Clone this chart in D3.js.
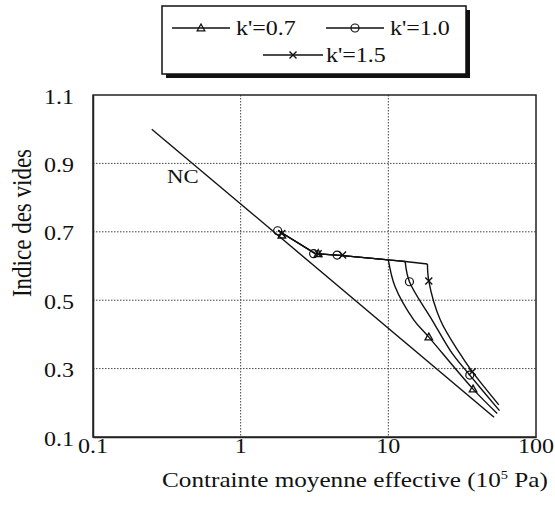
<!DOCTYPE html>
<html>
<head>
<meta charset="utf-8">
<script src="https://cdn.jsdelivr.net/npm/d3@7"></script>
<style>
  body { margin: 0; background: #fff; }
  text { font-family: "Liberation Serif", "Times New Roman", serif; fill: #111; }
</style>
</head>
<body>
<svg id="chart" width="555" height="510"></svg>
<script>
// Axis ticks and grid
const xTickValues = [0.1, 1, 10, 100];
const yTickValues = [0.1, 0.3, 0.5, 0.7, 0.9, 1.1];
const xGridValues = [1, 10];
const yGridValues = [0.3, 0.5, 0.7, 0.9];

// Normal consolidation line [p', e]
const ncLine = [[0.25, 1.0], [52, 0.158]];

// Common unloading plateau, then each k' branch [p', e]
const plateau07 = [[1.8, 0.703], [3.2, 0.636], [4.7, 0.631], [10, 0.618]];
const plateau10 = [[1.8, 0.703], [3.2, 0.636], [4.7, 0.631], [10, 0.618], [13, 0.613]];
const plateau15 = [[1.8, 0.703], [3.2, 0.636], [4.7, 0.631], [10, 0.618], [13, 0.613], [18.4, 0.606]];
const branch07 = [[10, 0.618], [11.1, 0.54], [14.9, 0.442], [18.8, 0.392], [37.5, 0.240], [54.6, 0.169]];
const branch10 = [[13, 0.613], [13.9, 0.554], [19.8, 0.442], [27, 0.345], [35.6, 0.281], [56.6, 0.177]];
const branch15 = [[18.4, 0.606], [18.8, 0.556], [22.5, 0.442], [30.4, 0.345], [37, 0.291], [56, 0.194]];

// Measured points shown with symbols
const markers07 = [[1.9, 0.69], [3.35, 0.636], [18.8, 0.392], [37.5, 0.240]];
const markers10 = [[1.78, 0.703], [3.12, 0.636], [4.5, 0.632], [13.9, 0.554], [35.6, 0.281]];
const markers15 = [[1.9, 0.695], [3.35, 0.636], [4.9, 0.632], [18.8, 0.556], [37, 0.291]];

const seriesNames = ["k'=0.7", "k'=1.0", "k'=1.5"];

const SX = 1.2; // horizontal glyph stretch
const svg = d3.select("#chart");
svg.append("rect").attr("width", 555).attr("height", 510).attr("fill", "#fff");

const plotL = 93, plotR = 536, plotT = 95, plotB = 437;
const x = d3.scaleLog().domain([0.1, 100]).range([plotL, plotR]);
const y = d3.scaleLinear().domain([0.1, 1.1]).range([plotB, plotT]);

function stretchedText(g, tx, ty, str, size, anchor, rot) {
  return g.append("text")
    .attr("transform", `translate(${tx},${ty}) scale(${SX},1)` + (rot ? ` rotate(${rot})` : ""))
    .attr("font-size", size)
    .attr("text-anchor", anchor || "start")
    .text(str);
}

// grid
const grid = svg.append("g").attr("stroke", "#444").attr("stroke-width", 1).attr("stroke-dasharray", "1.5,1.5");
grid.selectAll("line.gx").data(xGridValues).join("line").attr("class", "gx")
  .attr("x1", d => x(d)).attr("x2", d => x(d)).attr("y1", plotT).attr("y2", plotB);
grid.selectAll("line.gy").data(yGridValues).join("line").attr("class", "gy")
  .attr("y1", d => y(d)).attr("y2", d => y(d)).attr("x1", plotL).attr("x2", plotR);

// axes (frame)
const xAxis = d3.axisBottom(x).tickValues(xTickValues).tickSize(0).tickFormat(() => "");
const yAxis = d3.axisLeft(y).tickValues(yTickValues).tickSize(0).tickFormat(() => "");
svg.append("g").attr("transform", `translate(0,${plotB})`).call(xAxis).select(".domain").attr("stroke", "#222").attr("stroke-width", 1.5);
svg.append("g").attr("transform", `translate(${plotL},0)`).call(yAxis).select(".domain").attr("stroke", "#222").attr("stroke-width", 1.5);
svg.append("rect").attr("x", plotL).attr("y", plotT).attr("width", plotR - plotL).attr("height", plotB - plotT)
  .attr("fill", "none").attr("stroke", "#222").attr("stroke-width", 1.5);

// tick labels
const labels = svg.append("g");
xTickValues.forEach(v => stretchedText(labels, x(v), 453, String(v), 20, "middle"));
yTickValues.forEach(v => stretchedText(labels, 74, y(v) + 8.5, v.toFixed(1), 20, "end"));

// axis titles
const xt = labels.append("text")
  .attr("transform", `translate(162,487) scale(${SX},1)`)
  .attr("font-size", 21);
xt.append("tspan").text("Contrainte moyenne effective (10");
xt.append("tspan").attr("font-size", 12).attr("dy", -8).text("5");
xt.append("tspan").attr("dy", 8).text(" Pa)");
stretchedText(labels, 31, 223, "Indice des vides", 23, "middle", -90);

// curves
const lin = d3.line().x(d => x(d[0])).y(d => y(d[1]));
const smooth = d3.line().x(d => x(d[0])).y(d => y(d[1])).curve(d3.curveCatmullRom.alpha(0.5));
const curves = svg.append("g").attr("fill", "none").attr("stroke", "#111").attr("stroke-width", 1.4);
curves.append("path").attr("d", lin(ncLine));
[[plateau07, branch07], [plateau10, branch10], [plateau15, branch15]].forEach(([p, b]) => {
  curves.append("path").attr("d", lin(p));
  curves.append("path").attr("d", smooth(b));
});

stretchedText(labels, 167, 183, "NC", 19, "start");

// symbols
function drawSymbol(g, kind, cx, cy) {
  if (kind === 0) {
    g.append("path").attr("d", `M${cx},${cy - 4}L${cx + 3.8},${cy + 2.8}L${cx - 3.8},${cy + 2.8}Z`)
      .attr("fill", "none").attr("stroke", "#111").attr("stroke-width", 1.3);
  } else if (kind === 1) {
    g.append("circle").attr("cx", cx).attr("cy", cy).attr("r", 4)
      .attr("fill", "none").attr("stroke", "#111").attr("stroke-width", 1.2);
  } else {
    g.append("path").attr("d", `M${cx - 3.5},${cy - 3.5}L${cx + 3.5},${cy + 3.5}M${cx + 3.5},${cy - 3.5}L${cx - 3.5},${cy + 3.5}`)
      .attr("stroke", "#111").attr("stroke-width", 1.4);
  }
}
const sym = svg.append("g");
[markers07, markers10, markers15].forEach((arr, k) => arr.forEach(d => drawSymbol(sym, k, x(d[0]), y(d[1]))));

// legend
const lg = svg.append("g");
lg.append("rect").attr("x", 166).attr("y", 10).attr("width", 304).attr("height", 68).attr("fill", "#111");
lg.append("rect").attr("x", 162).attr("y", 6).attr("width", 304).attr("height", 68)
  .attr("fill", "#fff").attr("stroke", "#111").attr("stroke-width", 1.5);
const legendItems = [
  { x1: 172, x2: 230, y: 28, tx: 236 },
  { x1: 326, x2: 384, y: 28, tx: 390 },
  { x1: 263, x2: 323, y: 55, tx: 326 }
];
legendItems.forEach((it, k) => {
  lg.append("line").attr("x1", it.x1).attr("x2", it.x2).attr("y1", it.y).attr("y2", it.y)
    .attr("stroke", "#111").attr("stroke-width", 1.3);
  drawSymbol(lg, k, (it.x1 + it.x2) / 2, it.y);
  stretchedText(lg, it.tx, it.y + 7, seriesNames[k], 20, "start");
});
</script>
</body>
</html>
